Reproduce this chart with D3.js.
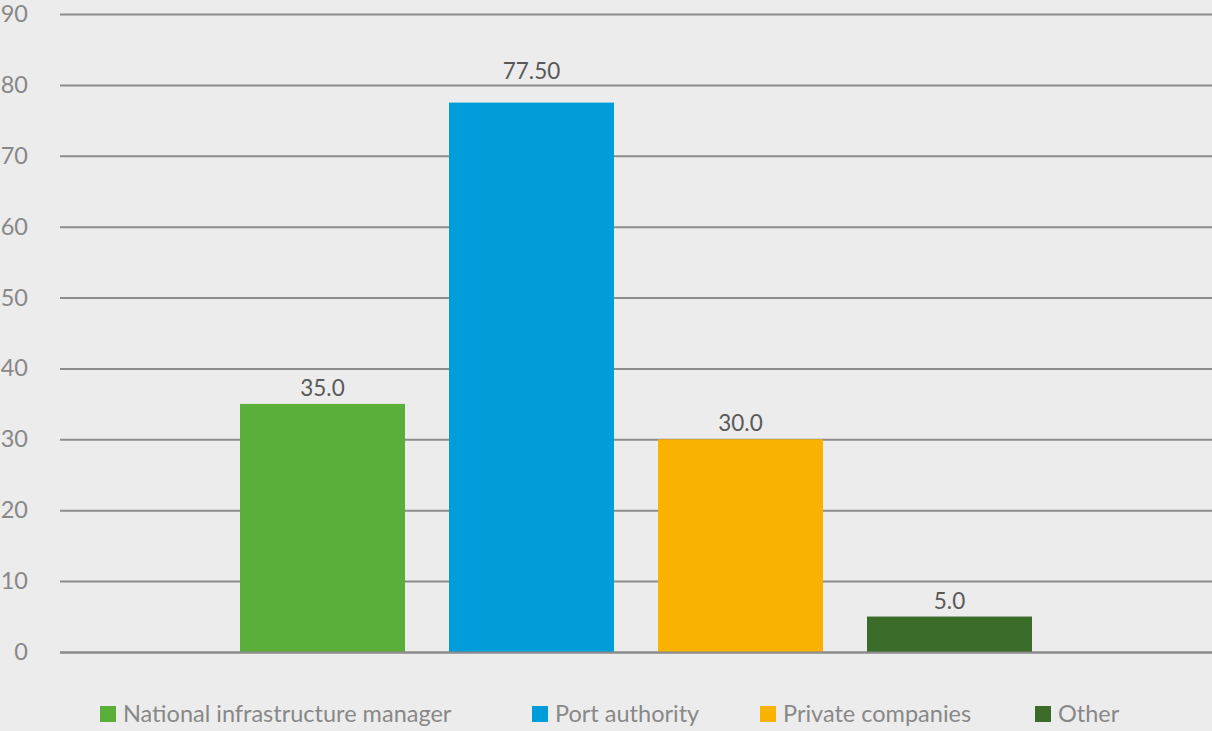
<!DOCTYPE html>
<html>
<head>
<meta charset="utf-8">
<script src="https://cdn.jsdelivr.net/npm/d3@7"></script>
<style>
  html, body { margin: 0; padding: 0; background: #ececec; }
  svg { display: block; }
</style>
</head>
<body>
<svg id="chart" width="1212" height="731"></svg>
<script>
const series = ["National infrastructure manager", "Port authority", "Private companies", "Other"];
const values = [35.0, 77.5, 30.0, 5.0];
const valueLabels = ["35.0", "77.50", "30.0", "5.0"];
const colors = ["#5aaf3a", "#009ddb", "#f9b200", "#3a6b29"];
const yTicks = [0, 10, 20, 30, 40, 50, 60, 70, 80, 90];

const W = 1212, H = 731;
const plot = { left: 60, right: 1212, top: 14, bottom: 652 };
const font = "Lato, 'Open Sans', sans-serif";
const labelGap = [8, 24, 8, 8];

const svg = d3.select("#chart");
svg.append("rect").attr("width", W).attr("height", H).attr("fill", "#ececec");

const y = d3.scaleLinear().domain([0, 90]).range([plot.bottom, plot.top]);
const x = d3.scaleBand().domain(series)
  .range([plot.left + 180, plot.right - 180])
  .paddingInner(0.2105).paddingOuter(0);

// gridlines + tick labels
const yAxis = d3.axisLeft(y).tickValues(yTicks).tickSize(-(plot.right - plot.left)).tickPadding(32).tickFormat(d3.format("d"));
const gAxis = svg.append("g").attr("transform", `translate(${plot.left},0)`).call(yAxis);
gAxis.select(".domain").remove();
gAxis.selectAll(".tick line").attr("stroke", "#8c8c8c").attr("stroke-width", 2);
gAxis.selectAll(".tick text").attr("fill", "#888888").attr("font-family", font).attr("font-size", 23.5);

// bars
svg.append("g").selectAll("rect").data(series).join("rect")
  .attr("x", d => x(d))
  .attr("y", (d, i) => y(values[i]))
  .attr("width", x.bandwidth())
  .attr("height", (d, i) => y(0) - y(values[i]))
  .attr("fill", (d, i) => colors[i]);

// zero line on top
svg.append("line").attr("x1", plot.left).attr("x2", plot.right)
  .attr("y1", y(0) + 0.5).attr("y2", y(0) + 0.5)
  .attr("stroke", "#8c8c8c").attr("stroke-width", 2);

// value labels
svg.append("g").selectAll("text").data(series).join("text")
  .attr("x", d => x(d) + x.bandwidth() / 2)
  .attr("y", (d, i) => y(values[i]) - labelGap[i])
  .attr("text-anchor", "middle")
  .attr("fill", "#595959")
  .attr("font-family", font).attr("font-size", 22.5)
  .text((d, i) => valueLabels[i]);

// legend
const legendX = [100, 532, 760, 1035];
const lg = svg.append("g").selectAll("g").data(series).join("g")
  .attr("transform", (d, i) => `translate(${legendX[i]},706)`);
lg.append("rect").attr("width", 16).attr("height", 16).attr("fill", (d, i) => colors[i]);
lg.append("text").attr("x", 23).attr("y", 16)
  .attr("fill", "#888888").attr("font-family", font).attr("font-size", 23.5)
  .text(d => d);
</script>
</body>
</html>
